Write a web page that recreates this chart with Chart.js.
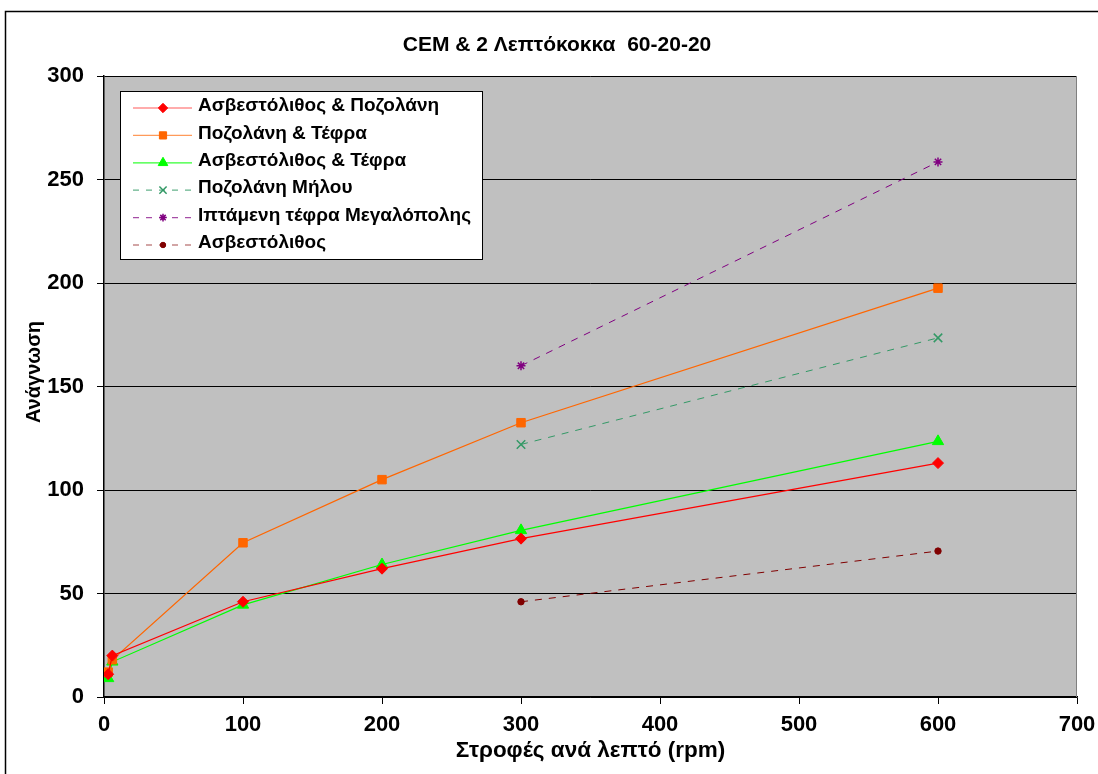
<!DOCTYPE html>
<html>
<head>
<meta charset="utf-8">
<script src="https://cdn.jsdelivr.net/npm/chart.js@4/dist/chart.umd.min.js"></script>
<style>
  html, body { margin: 0; padding: 0; background: #ffffff; }
  #wrap { width: 1098px; height: 774px; position: relative; }
</style>
</head>
<body>
<div id="wrap"><canvas id="c" width="1098" height="774"></canvas></div>
<script>
// Rotational speeds (rpm) and viscometer readings
const speedsFull = [3, 6, 100, 200, 300, 600];
const speedsShort = [300, 600];

const limePozz = [11, 20, 46, 62, 76.5, 113];      // Ασβεστόλιθος & Ποζολάνη
const pozzAsh = [12, 18, 74.5, 105, 132.5, 197.5]; // Ποζολάνη & Τέφρα
const limeAsh = [9, 17, 44.5, 64, 80.5, 123.5];    // Ασβεστόλιθος & Τέφρα
const pozzMilos = [122, 173.5];                     // Ποζολάνη Μήλου
const flyAshMeg = [160, 258.5];                     // Ιπτάμενη τέφρα Μεγαλόπολης
const limestone = [46, 70.5];                       // Ασβεστόλιθος

const seriesNames = [
  'Ασβεστόλιθος & Ποζολάνη',
  'Ποζολάνη & Τέφρα',
  'Ασβεστόλιθος & Τέφρα',
  'Ποζολάνη Μήλου',
  'Ιπτάμενη τέφρα Μεγαλόπολης',
  'Ασβεστόλιθος'
];

const yTicks = [0, 50, 100, 150, 200, 250, 300];
const xTicks = [0, 100, 200, 300, 400, 500, 600, 700];

const titleText = 'CEM & 2 Λεπτόκοκκα  60-20-20';
const xTitle = 'Στροφές ανά λεπτό (rpm)';
const yTitle = 'Ανάγνωση';

const FONT = '"Liberation Sans", Arial, sans-serif';

function pts(xs, ys) { return xs.map((x, i) => ({ x: x, y: ys[i] })); }

// per-series look: colour, light legend-line colour, marker
const styles = [
  { color: '#ff0000', legendLine: '#ff5a5a', pointStyle: 'rectRot', radius: 5.5, width: 1.2, dash: [] },
  { color: '#ff6600', legendLine: '#ff9a5a', pointStyle: 'rect', radius: 6, width: 1.2, dash: [] },
  { color: '#00ff00', legendLine: '#33ff33', pointStyle: 'triangle', radius: 6.5, width: 1.2, dash: [] },
  { color: '#339966', legendLine: '#66b38c', pointStyle: 'crossRot', radius: 6, width: 1, dash: [7, 7] },
  { color: '#800080', legendLine: '#a64da6', pointStyle: 'star', radius: 4.5, width: 1, dash: [7, 7] },
  { color: '#800000', legendLine: '#a64d4d', pointStyle: 'circle', radius: 3.2, width: 1, dash: [7, 7] }
];
const values = [
  pts(speedsFull, limePozz), pts(speedsFull, pozzAsh), pts(speedsFull, limeAsh),
  pts(speedsShort, pozzMilos), pts(speedsShort, flyAshMeg), pts(speedsShort, limestone)
];

const datasets = values.map((data, i) => {
  const s = styles[i];
  return {
    label: seriesNames[i],
    data: data,
    showLine: true,
    borderColor: s.color,
    backgroundColor: s.color,
    borderWidth: s.width,
    borderDash: s.dash,
    pointStyle: s.pointStyle,
    pointRadius: s.radius,
    pointHoverRadius: s.radius,
    pointBorderColor: s.color,
    pointBackgroundColor: s.color,
    pointBorderWidth: (s.pointStyle === 'crossRot' || s.pointStyle === 'star') ? 1.5 : 1
  };
});

// Plot background, frame, titles and legend box
const decor = {
  id: 'decor',
  beforeDraw(chart) {
    const { ctx, chartArea: a } = chart;
    ctx.save();
    ctx.fillStyle = '#ffffff';
    ctx.fillRect(0, 0, chart.width, chart.height);
    ctx.fillStyle = '#c0c0c0';
    ctx.fillRect(a.left, a.top, a.right - a.left, a.bottom - a.top);
    ctx.strokeStyle = '#000000';
    ctx.lineWidth = 1.5;
    ctx.strokeRect(5.5, 11.5, chart.width + 20, chart.height + 20);
    ctx.restore();
  },
  afterDraw(chart) {
    const { ctx, chartArea: a } = chart;
    ctx.save();
    ctx.strokeStyle = '#808080';
    ctx.lineWidth = 1;
    ctx.beginPath();
    ctx.moveTo(a.right - 0.5, a.top);
    ctx.lineTo(a.right - 0.5, a.bottom);
    ctx.stroke();

    ctx.fillStyle = '#000000';
    ctx.textAlign = 'center';
    ctx.textBaseline = 'middle';
    ctx.font = 'bold 21px ' + FONT;
    ctx.fillText(titleText, 557, 45);
    ctx.font = 'bold 22.5px ' + FONT;
    ctx.fillText(xTitle, (a.left + a.right) / 2, 751);
    ctx.translate(34, 372);
    ctx.rotate(-Math.PI / 2);
    ctx.font = 'bold 20px ' + FONT;
    ctx.fillText(yTitle, 0, 0);
    ctx.restore();

    const lx = 120, ly = 91, lw = 362, lh = 168;
    ctx.save();
    ctx.fillStyle = '#ffffff';
    ctx.fillRect(lx, ly, lw, lh);
    ctx.strokeStyle = '#000000';
    ctx.lineWidth = 1;
    ctx.strokeRect(lx + 0.5, ly + 0.5, lw, lh);
    ctx.font = 'bold 19px ' + FONT;
    ctx.textAlign = 'left';
    ctx.textBaseline = 'middle';
    styles.forEach((s, i) => {
      const y = ly + 17 + i * 27.4;
      ctx.save();
      ctx.strokeStyle = s.legendLine;
      ctx.lineWidth = 1.2;
      ctx.setLineDash(s.dash.length ? [6, 7] : []);
      ctx.beginPath();
      ctx.moveTo(133, y);
      ctx.lineTo(192, y);
      ctx.stroke();
      ctx.restore();
      ctx.save();
      ctx.lineWidth = (s.pointStyle === 'crossRot' || s.pointStyle === 'star') ? 1.5 : 1;
      ctx.strokeStyle = s.color;
      ctx.fillStyle = s.color;
      Chart.helpers.drawPoint(ctx, { pointStyle: s.pointStyle, radius: s.radius * 0.85, rotation: 0, borderWidth: ctx.lineWidth }, 163, y);
      ctx.restore();
      ctx.fillStyle = '#000000';
      ctx.fillText(seriesNames[i], 198, y - 2);
    });
    ctx.restore();
  }
};

new Chart(document.getElementById('c'), {
  type: 'scatter',
  data: { datasets: datasets },
  options: {
    responsive: false,
    animation: false,
    events: [],
    layout: { padding: { top: 76, right: 21, left: 0, bottom: 0 } },
    plugins: { legend: { display: false }, title: { display: false }, tooltip: { enabled: false } },
    scales: {
      x: {
        type: 'linear', min: 0, max: 700,
        afterBuildTicks: s => { s.ticks = xTicks.map(v => ({ value: v })); },
        afterFit: s => { s.height = 77; s.paddingLeft = 0; s.paddingRight = 0; },
        grid: { drawOnChartArea: false, drawTicks: true, tickLength: 7, color: '#000000', lineWidth: 1 },
        border: { color: '#000000', width: 1.5 },
        ticks: { color: '#000000', font: { family: FONT, size: 22, weight: 'bold' }, padding: 8, maxRotation: 0 }
      },
      y: {
        type: 'linear', min: 0, max: 300,
        afterBuildTicks: s => { s.ticks = yTicks.map(v => ({ value: v })); },
        afterFit: s => { s.width = 104; s.paddingTop = 0; s.paddingBottom = 0; },
        grid: { drawOnChartArea: true, drawTicks: true, tickLength: 7, color: '#000000', lineWidth: 1 },
        border: { color: '#000000', width: 1.5 },
        ticks: { color: '#000000', font: { family: FONT, size: 22, weight: 'bold' }, padding: 13 }
      }
    }
  },
  plugins: [decor]
});
</script>
</body>
</html>
